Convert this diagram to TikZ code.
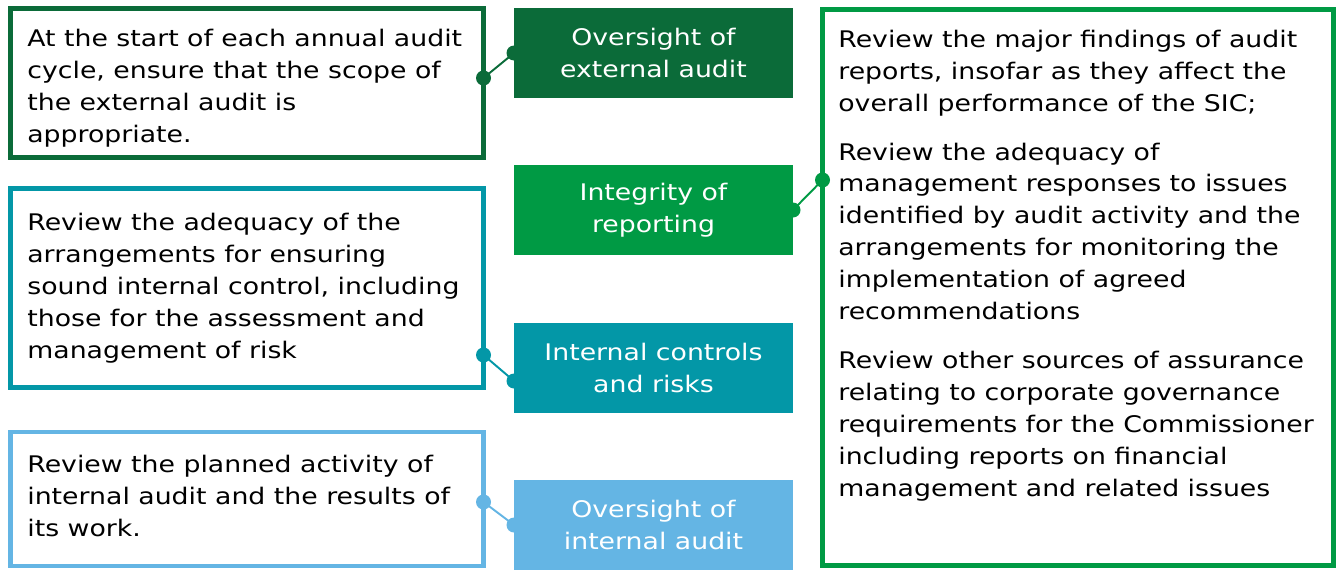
\documentclass[tikz,border=0pt]{standalone}
\usepackage{fontspec}
\setmainfont{DejaVu Sans}[FakeStretch=1.17]
\usetikzlibrary{positioning}
\definecolor{extgreen}{RGB}{11,107,57}
\definecolor{repgreen}{RGB}{0,154,68}
\definecolor{ctrlteal}{RGB}{3,151,167}
\definecolor{intblue}{RGB}{100,181,228}

\begin{document}
\begin{tikzpicture}[
    frame/.style={draw, line width=2.7pt, anchor=north west, inner sep=0pt, outer sep=0pt, minimum width=9.46cm},
    headbox/.style={anchor=north west, minimum width=5.58cm, minimum height=1.8cm, inner sep=0pt, outer sep=0pt, align=center, text=white, font=\fontsize{13}{18.2}\selectfont},
    body/.style={anchor=north west, align=left, inner sep=0pt, font=\fontsize{13}{18.2}\selectfont},
    link/.style={line width=1.1pt},
    knob/.style={radius=0.15}
]
    \useasboundingbox (0,0) rectangle (26.86,-11.4);

    % outlined boxes
    \node[frame, extgreen, minimum height=2.98cm] (extbox) at (0.21,-0.17) {};
    \node[frame, ctrlteal, minimum height=3.98cm] (ctrlbox) at (0.21,-3.77) {};
    \node[frame, intblue, line width=2.3pt, minimum height=2.68cm] (intbox) at (0.21,-8.64) {};
    \node[frame, repgreen, minimum width=10.22cm, minimum height=11.12cm] (repbox) at (16.45,-0.19) {};

    % filled headings
    \node[headbox, fill=extgreen] (extlabel) at (10.28,-0.16) {Oversight of\\external audit};
    \node[headbox, fill=repgreen] (replabel) at (10.28,-3.30) {Integrity of\\reporting};
    \node[headbox, fill=ctrlteal] (ctrllabel) at (10.28,-6.46) {Internal controls\\and risks};
    \node[headbox, fill=intblue] (intlabel) at (10.28,-9.60) {Oversight of\\internal audit};

    % texts
    \node[body] (exttext) at (0.54,-0.58) {At the start of each annual audit\\cycle, ensure that the scope of\\the external audit is\\appropriate.};
    \node[body] (ctrltext) at (0.54,-4.26) {Review the adequacy of the\\arrangements for ensuring\\sound internal control, including\\those for the assessment and\\management of risk};
    \node[body] (inttext) at (0.54,-9.10) {Review the planned activity of\\internal audit and the results of\\its work.};
    \node[body] (reptext) at (16.76,-0.60) {Review the major findings of audit\\reports, insofar as they affect the\\overall performance of the SIC;\\[9.3pt]
        Review the adequacy of\\management responses to issues\\identified by audit activity and the\\arrangements for monitoring the\\implementation of agreed\\recommendations\\[9.3pt]
        Review other sources of assurance\\relating to corporate governance\\requirements for the Commissioner\\including reports on financial\\management and related issues};

    % connectors
    \coordinate (extpin) at ([yshift=0.1cm]extbox.east);
    \coordinate (reppin) at ([yshift=-3.41cm]repbox.north west);
    \coordinate (ctrlpin) at ([yshift=0.65cm]ctrlbox.south east);
    \coordinate (ctrlend) at ([yshift=-0.26cm]ctrllabel.west);
    \coordinate (intpin) at ([yshift=-0.06cm]intbox.east);

    \draw[link, extgreen] (extpin) -- (extlabel.west);
    \fill[extgreen, knob] (extpin) circle[] (extlabel.west) circle[];
    \draw[link, repgreen] (replabel.east) -- (reppin);
    \fill[repgreen, knob] (replabel.east) circle[] (reppin) circle[];
    \draw[link, ctrlteal] (ctrlpin) -- (ctrlend);
    \fill[ctrlteal, knob] (ctrlpin) circle[] (ctrlend) circle[];
    \draw[link, intblue] (intpin) -- (intlabel.west);
    \fill[intblue, knob] (intpin) circle[] (intlabel.west) circle[];
\end{tikzpicture}
\end{document}
